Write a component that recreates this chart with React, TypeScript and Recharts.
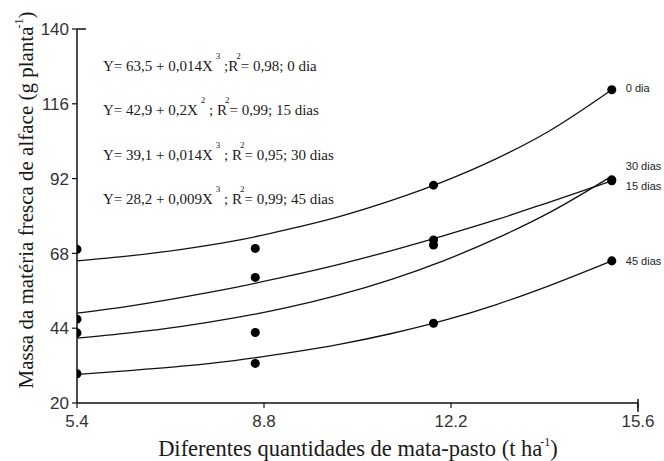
import React from "react";
import {
  ComposedChart,
  Line,
  Scatter,
  XAxis,
  YAxis,
  LabelList,
} from "recharts";

// fitted curves at a few doses
const curveX = [5.4, 6.4, 7.4, 8.4, 9.4, 10.4, 11.4, 12.4, 13.4, 14.4, 15.6];
const dia0 = [65.6, 67.2, 69.3, 72.0, 75.6, 79.8, 85.0, 91.1, 98.4, 107.2, 120.5];
const dias15 = [48.8, 51.1, 53.9, 57.0, 60.6, 64.5, 68.9, 73.7, 78.8, 84.4, 91.3];
const dias30 = [40.8, 42.5, 44.6, 47.3, 50.6, 54.7, 59.7, 65.7, 72.8, 81.0, 92.8];
const dias45 = [29.2, 30.4, 31.8, 33.6, 36.0, 38.8, 42.3, 46.5, 51.6, 57.6, 65.6];

// observed means
const pointX = [5.4, 8.8, 12.2, 15.6];
const pts0 = [69.3, 69.6, 89.9, 120.5];
const pts15 = [46.9, 60.3, 72.3, 91.3];
const pts30 = [42.5, 42.6, 70.7, 91.6];
const pts45 = [29.4, 32.7, 45.6, 65.6];

const xTicks = [5.4, 8.8, 12.2, 15.6];
const yTicks = [20, 44, 68, 92, 116, 140];

const seriesNames = ["0 dia", "15 dias", "30 dias", "45 dias"];

const equations = [
  { head: "Y= 63,5 + 0,014X", pow: "3", mid: " ;R", tail: "= 0,98; 0 dia" },
  { head: "Y= 42,9 + 0,2X", pow: "2", mid: " ; R", tail: "= 0,99; 15 dias" },
  { head: "Y= 39,1 + 0,014X", pow: "3", mid: " ; R", tail: "= 0,95; 30 dias" },
  { head: "Y= 28,2 + 0,009X", pow: "3", mid: " ; R", tail: "= 0,99; 45 dias" },
];

const curveData = curveX.map((x, i) => ({
  x,
  d0: dia0[i],
  d15: dias15[i],
  d30: dias30[i],
  d45: dias45[i],
}));

const pointData = pointX.map((x, i) => ({
  x,
  p0: pts0[i],
  p15: pts15[i],
  p30: pts30[i],
  p45: pts45[i],
}));

const W = 664;
const H = 461;
const serif = "Liberation Serif, DejaVu Serif, serif";
const sans = "Liberation Sans, Arial, sans-serif";
const last = curveX.length - 1;

const YTick = (props: any) => {
  const { x, y, payload } = props;
  const axisX = x + 7;
  return (
    <g>
      {payload.value === 140 && (
        <line x1={axisX} x2={axisX + 9} y1={y} y2={y} stroke="#111" strokeWidth={1.5} />
      )}
      <text x={x - 1} y={y} dy="0.36em" textAnchor="end" style={{ fontFamily: sans }} fontSize={17} fill="#333">
        {payload.value}
      </text>
    </g>
  );
};

const XTick = (props: any) => {
  const { x, y, payload } = props;
  const axisY = y - 7;
  return (
    <g>
      {payload.value === 15.6 && (
        <line x1={x} x2={x} y1={axisY - 4} y2={axisY + 9} stroke="#111" strokeWidth={1.5} />
      )}
      <text x={x} y={y + 5} dy="0.71em" textAnchor="middle" style={{ fontFamily: sans }} fontSize={17} fill="#333">
        {payload.value.toFixed(1)}
      </text>
    </g>
  );
};

const endLabel = (name: string, dy: number) => (props: any) => {
  const { x, y, index } = props;
  if (index !== last) return null;
  return (
    <text x={x + 14} y={y + dy} dy="0.35em" style={{ fontFamily: sans }} fontSize={11} fill="#222">
      {name}
    </text>
  );
};

export default function App() {
  return (
    <div style={{ position: "absolute", left: 0, top: 0, width: W, height: H, background: "#fff" }}>
      <ComposedChart
        width={W}
        height={H}
        data={curveData}
        margin={{ top: 29, right: 26, left: 0, bottom: 0 }}
      >
        <XAxis
          xAxisId="axis"
          type="number"
          dataKey="x"
          domain={[5.4, 15.6]}
          ticks={xTicks}
          interval={0}
          allowDataOverflow
          height={58}
          axisLine={{ stroke: "#111", strokeWidth: 1.5 }}
          tickLine={{ stroke: "#111", strokeWidth: 1.2 }}
          tickSize={5}
          tickMargin={2}
          tick={<XTick />}
        />
        <XAxis
          xAxisId="data"
          type="number"
          dataKey="x"
          domain={[5.4, 16.1]}
          allowDataOverflow
          hide
        />
        <YAxis
          type="number"
          domain={[20, 140]}
          ticks={yTicks}
          interval={0}
          allowDataOverflow
          width={77}
          axisLine={{ stroke: "#111", strokeWidth: 1.5 }}
          tickLine={{ stroke: "#111", strokeWidth: 1.2 }}
          tickSize={5}
          tickMargin={2}
          tick={<YTick />}
        />
        <Line xAxisId="data" dataKey="d0" type="monotone" stroke="#111" strokeWidth={1.3} dot={false} isAnimationActive={false}>
          <LabelList content={endLabel(seriesNames[0], -2)} />
        </Line>
        <Line xAxisId="data" dataKey="d15" type="monotone" stroke="#111" strokeWidth={1.3} dot={false} isAnimationActive={false}>
          <LabelList content={endLabel(seriesNames[1], 5)} />
        </Line>
        <Line xAxisId="data" dataKey="d30" type="monotone" stroke="#111" strokeWidth={1.3} dot={false} isAnimationActive={false}>
          <LabelList content={endLabel(seriesNames[2], -10)} />
        </Line>
        <Line xAxisId="data" dataKey="d45" type="monotone" stroke="#111" strokeWidth={1.3} dot={false} isAnimationActive={false}>
          <LabelList content={endLabel(seriesNames[3], 0)} />
        </Line>
        <Scatter xAxisId="data" data={pointData} dataKey="p0" fill="#000" isAnimationActive={false} />
        <Scatter xAxisId="data" data={pointData} dataKey="p15" fill="#000" isAnimationActive={false} />
        <Scatter xAxisId="data" data={pointData} dataKey="p30" fill="#000" isAnimationActive={false} />
        <Scatter xAxisId="data" data={pointData} dataKey="p45" fill="#000" isAnimationActive={false} />
      </ComposedChart>

      <svg
        width={W}
        height={H}
        style={{ position: "absolute", left: 0, top: 0, pointerEvents: "none" }}
      >
        {equations.map((eq, i) => (
          <text key={i} x={103} y={71 + i * 44.3} style={{ fontFamily: serif }} fontSize={15} fill="#1a1a1a">
            {eq.head}
            <tspan dx={3} dy={-12} fontSize={9}>{eq.pow}</tspan>
            <tspan dy={12}>{eq.mid}</tspan>
            <tspan dx={-2} dy={-12} fontSize={9}>2</tspan>
            <tspan dy={12}>{eq.tail}</tspan>
          </text>
        ))}
        <text
          x={33}
          y={200}
          transform="rotate(-90, 33, 200)"
          textAnchor="middle"
          style={{ fontFamily: serif }}
          fontSize={21}
          fill="#1a1a1a"
        >
          Massa da matéria fresca de alface (g planta
          <tspan dx={-2} dy={-10} fontSize={12}>-1</tspan>
          <tspan dy={10}>)</tspan>
        </text>
        <text x={358} y={456} textAnchor="middle" style={{ fontFamily: serif }} fontSize={22.5} fill="#1a1a1a">
          Diferentes quantidades de mata-pasto (t ha
          <tspan dx={-2} dy={-10} fontSize={12}>-1</tspan>
          <tspan dy={10}>)</tspan>
        </text>
      </svg>
    </div>
  );
}
